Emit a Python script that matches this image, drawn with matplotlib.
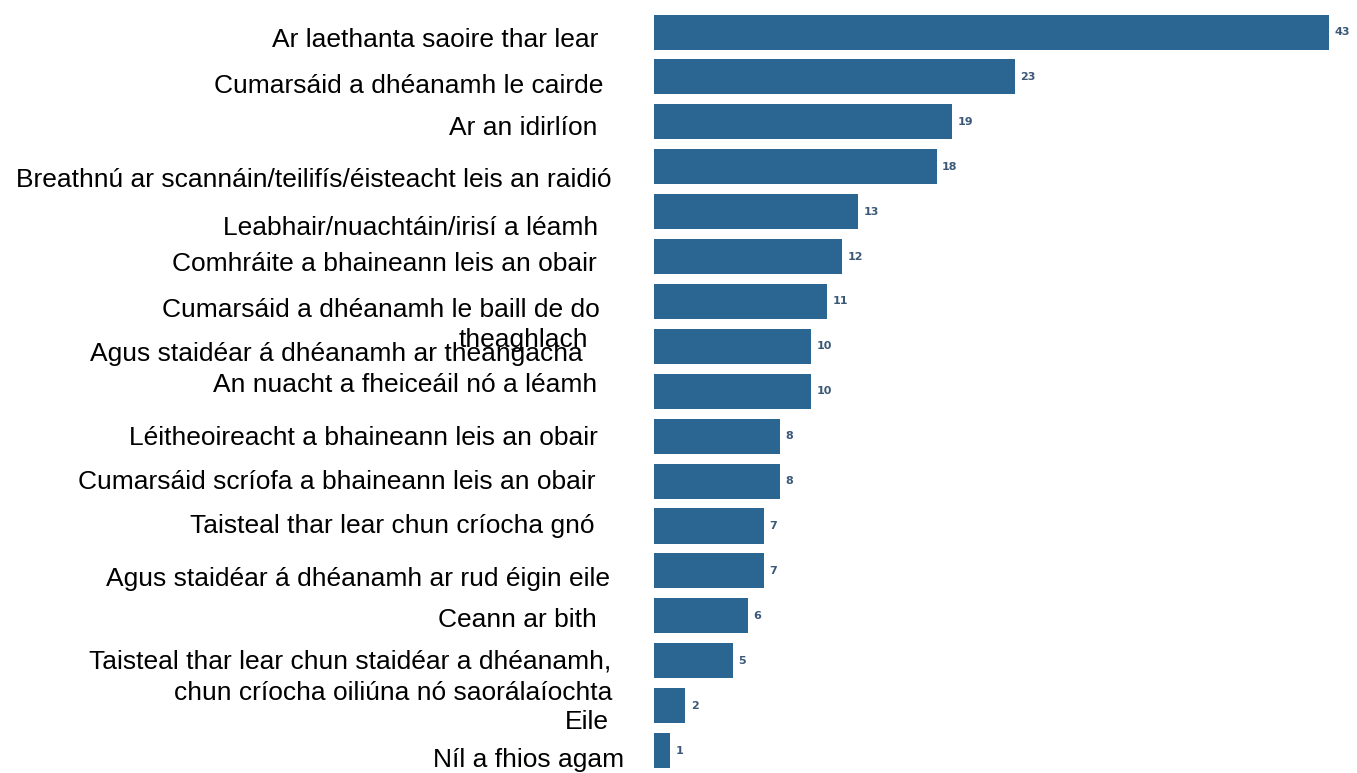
import matplotlib
matplotlib.use("Agg")
import matplotlib.pyplot as plt

categories = [
    "Ar laethanta saoire thar lear",
    "Cumarsáid a dhéanamh le cairde",
    "Ar an idirlíon",
    "Breathnú ar scannáin/teilifís/éisteacht leis an raidió",
    "Leabhair/nuachtáin/irisí a léamh",
    "Comhráite a bhaineann leis an obair",
    "Cumarsáid a dhéanamh le baill de do theaghlach",
    "Agus staidéar á dhéanamh ar theangacha",
    "An nuacht a fheiceáil nó a léamh",
    "Léitheoireacht a bhaineann leis an obair",
    "Cumarsáid scríofa a bhaineann leis an obair",
    "Taisteal thar lear chun críocha gnó",
    "Agus staidéar á dhéanamh ar rud éigin eile",
    "Ceann ar bith",
    "Taisteal thar lear chun staidéar a dhéanamh, chun críocha oiliúna nó saorálaíochta",
    "Eile",
    "Níl a fhios agam",
]
values = [43, 23, 19, 18, 13, 12, 11, 10, 10, 8, 8, 7, 7, 6, 5, 2, 1]

# label text lines as displayed, with (right-edge x px, center y px)
label_lines = [
    ("Ar laethanta saoire thar lear", 598, 40),
    ("Cumarsáid a dhéanamh le cairde", 603, 86),
    ("Ar an idirlíon", 597, 128),
    ("Breathnú ar scannáin/teilifís/éisteacht leis an raidió", 612, 180),
    ("Leabhair/nuachtáin/irisí a léamh", 598, 228),
    ("Comhráite a bhaineann leis an obair", 597, 264),
    ("Cumarsáid a dhéanamh le baill de do", 600, 310),
    ("theaghlach", 588, 340),
    ("Agus staidéar á dhéanamh ar theangacha", 583, 354),
    ("An nuacht a fheiceáil nó a léamh", 597, 385),
    ("Léitheoireacht a bhaineann leis an obair", 598, 438),
    ("Cumarsáid scríofa a bhaineann leis an obair", 596, 482),
    ("Taisteal thar lear chun críocha gnó", 595, 526),
    ("Agus staidéar á dhéanamh ar rud éigin eile", 610, 579),
    ("Ceann ar bith", 597, 620),
    ("Taisteal thar lear chun staidéar a dhéanamh,", 611, 662),
    ("chun críocha oiliúna nó saorálaíochta", 612, 693),
    ("Eile", 609, 722),
    ("Níl a fhios agam", 624, 760),
]

W, H = 1357, 773
fig = plt.figure(figsize=(W / 100, H / 100), dpi=100)
ax_left = 654 / W
ax_w = (44.5 * 15.7) / W
ax = fig.add_axes([ax_left, 0, ax_w, 1])
ypos = list(range(len(values)))
ax.barh(ypos, values, height=0.78, color="#2b6592")
for y, v in zip(ypos, values):
    ax.text(v + 0.35, y, str(v), va="center", ha="left", fontsize=8,
            fontweight="bold", color="#3b5878", family="DejaVu Sans")
ax.set_xlim(0, 44.5)
ax.set_ylim(16.50, -0.713)
ax.axis("off")

for text, xr, yc in label_lines:
    fig.text(xr / W, 1 - yc / H, text, ha="right", va="center",
             fontsize=19, family="Liberation Sans", color="black")

fig.savefig("out.png", dpi=100)
